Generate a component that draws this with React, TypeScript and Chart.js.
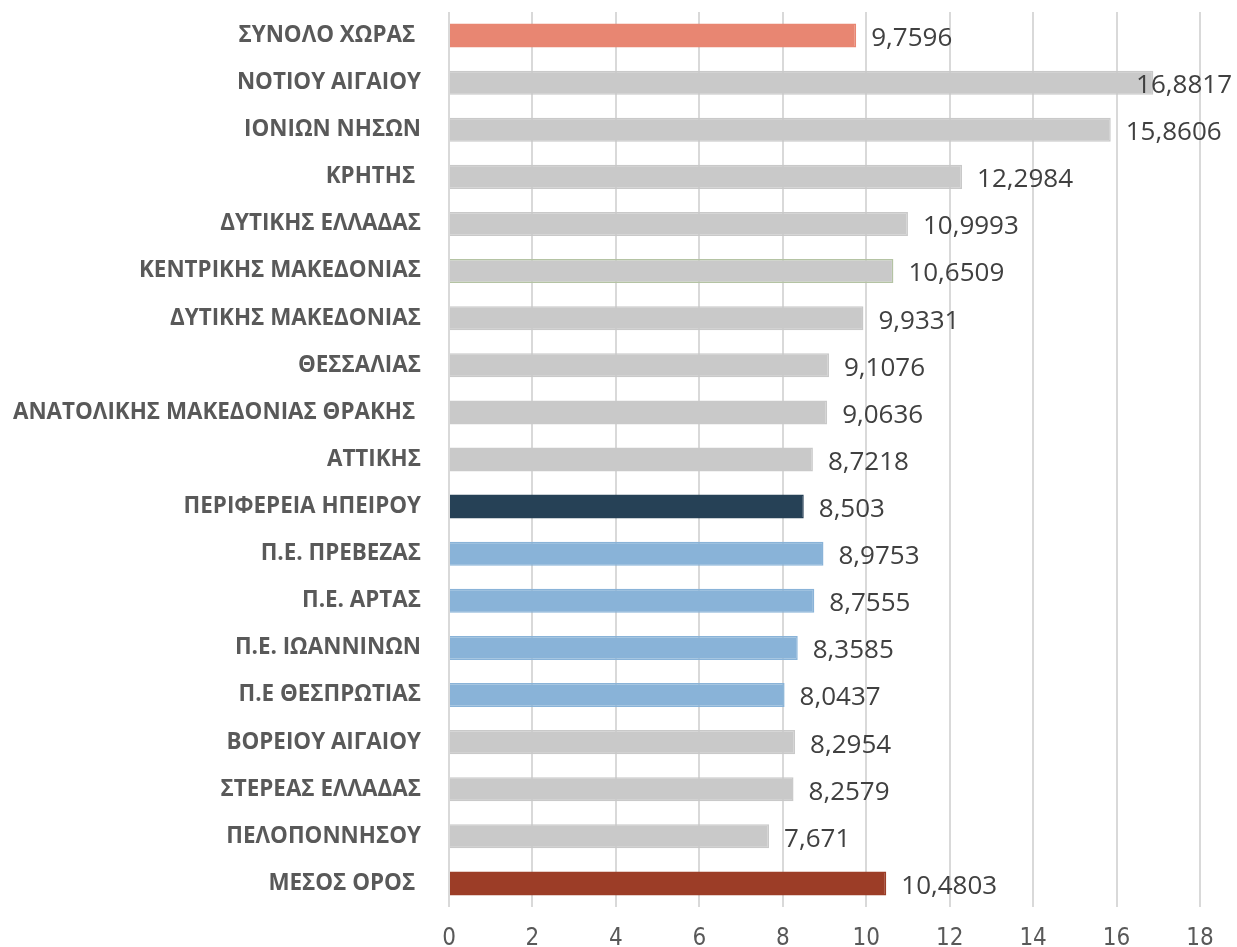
import React, { useEffect, useRef } from "react";
import { Chart, registerables } from "chart.js";

Chart.register(...registerables);

const categories = [
  "ΣΥΝΟΛΟ ΧΩΡΑΣ ",
  "ΝΟΤΙΟΥ ΑΙΓΑΙΟΥ",
  "ΙΟΝΙΩΝ ΝΗΣΩΝ",
  "ΚΡΗΤΗΣ ",
  "ΔΥΤΙΚΗΣ ΕΛΛΑΔΑΣ",
  "ΚΕΝΤΡΙΚΗΣ ΜΑΚΕΔΟΝΙΑΣ",
  "ΔΥΤΙΚΗΣ ΜΑΚΕΔΟΝΙΑΣ",
  "ΘΕΣΣΑΛΙΑΣ",
  "ΑΝΑΤΟΛΙΚΗΣ ΜΑΚΕΔΟΝΙΑΣ ΘΡΑΚΗΣ ",
  "ΑΤΤΙΚΗΣ",
  "ΠΕΡΙΦΕΡΕΙΑ ΗΠΕΙΡΟΥ",
  "Π.Ε. ΠΡΕΒΕΖΑΣ",
  "Π.Ε. ΑΡΤΑΣ",
  "Π.Ε. ΙΩΑΝΝΙΝΩΝ",
  "Π.Ε ΘΕΣΠΡΩΤΙΑΣ",
  "ΒΟΡΕΙΟΥ ΑΙΓΑΙΟΥ",
  "ΣΤΕΡΕΑΣ ΕΛΛΑΔΑΣ",
  "ΠΕΛΟΠΟΝΝΗΣΟΥ",
  "ΜΕΣΟΣ ΟΡΟΣ ",
];

const values = [
  9.7596, 16.8817, 15.8606, 12.2984, 10.9993, 10.6509, 9.9331, 9.1076, 9.0636,
  8.7218, 8.503, 8.9753, 8.7555, 8.3585, 8.0437, 8.2954, 8.2579, 7.671, 10.4803,
];

const barColors = [
  "#E88672", "#C9C9C9", "#C9C9C9", "#C9C9C9", "#C9C9C9", "#C9C9C9", "#C9C9C9",
  "#C9C9C9", "#C9C9C9", "#C9C9C9", "#264156", "#89B3D8", "#89B3D8", "#89B3D8",
  "#89B3D8", "#C9C9C9", "#C9C9C9", "#C9C9C9", "#9C3D27",
];

const borderColors = barColors.map((c, i) => (i === 5 ? "#B4C3A3" : c));

const xTicks = [0, 2, 4, 6, 8, 10, 12, 14, 16, 18];

const valueLabelPlugin = {
  id: "valueLabels",
  afterDatasetsDraw(chart: any) {
    const ctx = chart.ctx;
    const meta = chart.getDatasetMeta(0);
    ctx.save();
    ctx.font = "26px 'Open Sans'";
    ctx.fillStyle = "#404040";
    ctx.textBaseline = "middle";
    ctx.textAlign = "left";
    meta.data.forEach((bar: any, i: number) => {
      const text = String(values[i]).replace(".", ",");
      const w = ctx.measureText(text).width;
      let x = bar.x + 15;
      const maxX = chart.width - 5 - w;
      if (x > maxX) x = maxX;
      ctx.fillText(text, x, bar.y + 3);
    });
    ctx.restore();
  },
};

export default function App() {
  const canvasRef = useRef<HTMLCanvasElement | null>(null);

  useEffect(() => {
    document.body.style.margin = "0";
    const canvas = canvasRef.current!;
    const chart = new Chart(canvas, {
      type: "bar",
      data: {
        labels: categories,
        datasets: [
          {
            data: values,
            backgroundColor: barColors,
            borderColor: borderColors,
            borderWidth: 1.5,
            barPercentage: 0.51,
            categoryPercentage: 1,
          },
        ],
      },
      options: {
        indexAxis: "y",
        animation: false,
        responsive: false,
        maintainAspectRatio: false,
        layout: { padding: { top: 12, right: 37, left: 0, bottom: 0 } },
        plugins: {
          legend: { display: false },
          tooltip: { enabled: false },
        },
        scales: {
          x: {
            min: 0,
            max: 18,
            afterBuildTicks: (scale: any) => {
              scale.ticks = xTicks.map((v) => ({ value: v }));
            },
            afterFit: (scale: any) => {
              scale.height = 40;
              scale.paddingLeft = 0;
              scale.paddingRight = 0;
            },
            grid: {
              color: "#D9D9D9",
              lineWidth: 2,
              drawTicks: false,
            },
            border: { display: false },
            ticks: {
              padding: 17,
              color: "#595959",
              font: { family: "'Liberation Sans Narrow', 'DejaVu Sans Condensed', 'Open Sans'", size: 24 },
            },
          },
          y: {
            afterFit: (scale: any) => {
              scale.width = 449;
              scale.paddingTop = 0;
              scale.paddingBottom = 0;
            },
            grid: { display: false, drawTicks: false },
            border: { display: false },
            ticks: {
              padding: 28,
              color: "#595959",
              font: { family: "'Open Sans'", size: 22.4, weight: "bold" },
            },
          },
        },
      },
      plugins: [valueLabelPlugin],
    });
    return () => chart.destroy();
  }, []);

  return (
    <div style={{ width: 1237, height: 947 }}>
      <canvas ref={canvasRef} width={1237} height={947} style={{ display: "block" }} />
    </div>
  );
}
